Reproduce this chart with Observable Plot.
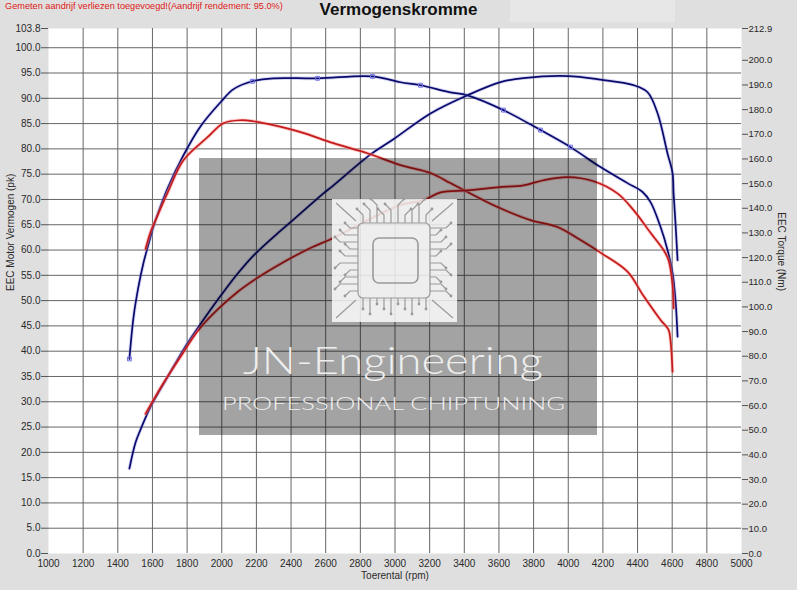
<!DOCTYPE html>
<html>
<head>
<meta charset="utf-8">
<script src="https://cdn.jsdelivr.net/npm/d3@7"></script>
<script src="https://cdn.jsdelivr.net/npm/@observablehq/plot@0.6"></script>
<style>
  html, body { margin: 0; padding: 0; background: #ffffff; }
  #wrap { position: relative; width: 797px; height: 595px; overflow: hidden; background: #ffffff; }
  #bg { position: absolute; left: 0; top: 0; width: 797px; height: 590px; background: #dfdfdf; }
  #lightbox { position: absolute; left: 510px; top: 0; width: 165px; height: 22px; background: #e7e7e7; }
  #chart { position: absolute; left: 0; top: 0; }
  #note { position: absolute; left: 5px; top: 1px; font: 9.2px "Liberation Sans", Arial, sans-serif; color: #e01818; white-space: nowrap; }
  #title { position: absolute; left: 0; width: 797px; top: 0px; text-align: center; font: bold 17px "Liberation Sans", Arial, sans-serif; color: #111; }
  #wm { position: absolute; left: 0; top: 0; pointer-events: none; }
</style>
</head>
<body>
<div id="wrap">
  <div id="bg"></div>
  <div id="lightbox"></div>
  <div id="chart"></div>
  <svg id="wm" width="797" height="595"></svg>
  <div id="note">Gemeten aandrijf verliezen toegevoegd!(Aandrijf rendement: 95.0%)</div>
  <div id="title">Vermogenskromme</div>
</div>
<script>
// ---- data ----
const bluePowerRpm = [1467,1502,1531,1589,1687,1779,1866,1935,2010,2091,2183,2322,2414,2587,2645,2859,2991,3205,3418,3609,3742,3996,4186,4377,4458,4516,4573,4602,4608,4619,4631];
const bluePowerPk  = [16.8,21.9,24.5,29.0,34.9,40.3,44.8,48.2,51.7,55.3,58.9,63.3,66.0,71.2,72.8,78.9,81.9,87.0,90.6,93.2,94.0,94.4,93.7,92.6,91.2,87.0,79.1,75.2,71.2,65.3,58.0];

const blueTorqueRpm = [1467,1491,1519,1548,1571,1600,1618,1687,1779,1877,1993,2068,2177,2299,2553,2870,3032,3147,3320,3418,3626,3840,4013,4186,4342,4429,4475,4533,4573,4602,4619,4631];
const blueTorqueNm  = [78.9,96.0,108.1,117.8,123.9,131.2,135.2,148.0,161.5,173.2,183.0,188.3,191.5,192.7,192.7,193.5,191.1,189.9,187.0,185.8,179.8,171.7,164.8,156.7,150.2,146.6,142.5,132.4,123.1,113.8,102.8,87.9];

const redPowerRpm = [1560,1600,1664,1762,1866,1975,2091,2206,2356,2512,2645,2876,3032,3165,3263,3418,3592,3742,3857,3996,4146,4284,4377,4475,4550,4579,4602,4608];
const redPowerPk  = [27.6,30.0,33.7,38.9,44.2,48.2,51.7,54.5,57.6,60.4,62.4,66.5,68.9,69.9,71.4,71.8,72.4,72.8,73.8,74.4,73.6,71.2,67.9,63.4,60.0,58.0,53.1,48.5];

const redTorqueRpm = [1560,1589,1618,1687,1779,1918,2010,2108,2183,2299,2455,2645,2841,3032,3205,3320,3418,3592,3782,3938,4071,4186,4342,4434,4533,4579,4590,4602];
const redTorqueNm  = [123.5,130.4,135.2,146.2,159.5,168.8,174.5,175.7,175.3,173.7,170.9,166.4,162.3,157.5,154.3,150.2,146.6,140.5,135.2,132.4,127.1,122.0,114.3,104.5,94.7,90.7,86.6,73.7];

const markerRpm = [1467,2177,2553,2870,3147,3626,3840,4013];

const xTicks = [1000,1200,1400,1600,1800,2000,2200,2400,2600,2800,3000,3200,3400,3600,3800,4000,4200,4400,4600,4800,5000];
const leftTicks = [0,5,10,15,20,25,30,35,40,45,50,55,60,65,70,75,80,85,90,95,100,103.8];
const rightTicks = [0,10,20,30,40,50,60,70,80,90,100,110,120,130,140,150,160,170,180,190,200,212.9];
const leftMax = 103.8, rightMax = 212.9;

// ---- build ----
const k = leftMax / rightMax;   // Nm -> left-scale units
const zip = (xs, ys, f = v => v) => xs.map((x, i) => ({rpm: x, v: f(ys[i])}));
const bp = zip(bluePowerRpm, bluePowerPk);
const bt = zip(blueTorqueRpm, blueTorqueNm, v => v * k);
const rp = zip(redPowerRpm, redPowerPk);
const rt = zip(redTorqueRpm, redTorqueNm, v => v * k);
const markers = bt.filter(d => markerRpm.includes(d.rpm));

const BLUE = "#0a0a6c", BLUE_HALO = "#7b7bdc";
const RED = "#c41c1c", RED_HALO = "#ff8a8a";

function curve(data, color, halo, haloOp) {
  return [
    Plot.line(data, {x: "rpm", y: "v", stroke: halo, strokeWidth: 3.6, strokeOpacity: haloOp, curve: "catmull-rom"}),
    Plot.line(data, {x: "rpm", y: "v", stroke: color, strokeWidth: 1.7, curve: "catmull-rom"})
  ];
}

const chart = Plot.plot({
  width: 797,
  height: 590,
  marginLeft: 48,
  marginRight: 56,
  marginTop: 28,
  marginBottom: 37,
  style: {background: "transparent", fontFamily: "'Liberation Sans', Arial, sans-serif", fontSize: "10px", color: "#2a2a2a", overflow: "visible"},
  x: {domain: [1000, 5000]},
  y: {domain: [0, leftMax]},
  marks: [
    Plot.frame({fill: "white", stroke: null}),
    Plot.ruleX(xTicks.filter(t => t > 1000 && t < 5000), {stroke: "#666", strokeWidth: 1}),
    Plot.ruleY(leftTicks.filter(t => t > 0 && t < leftMax), {stroke: "#666", strokeWidth: 1}),
    Plot.axisX({ticks: xTicks, tickSize: 0, tickPadding: 6, tickFormat: d => String(d), label: null}),
    Plot.axisY({anchor: "left", ticks: leftTicks, tickSize: 7, tickPadding: 1, tickFormat: d => d.toFixed(1), label: null, stroke: "#555"}),
    Plot.axisY({anchor: "right", ticks: rightTicks.map(v => v * k), tickSize: 6, tickPadding: 1, fontSize: 9.5, tickFormat: v => (v / k).toFixed(1), label: null, stroke: "#555"}),
    ...curve(bt, BLUE, BLUE_HALO, 0.3),
    ...curve(bp, BLUE, BLUE_HALO, 0.3),
    ...curve(rt, RED, RED_HALO, 0.45),
    ...curve(rp, RED, RED_HALO, 0.45),
    Plot.dot(markers, {x: "rpm", y: "v", symbol: "square", r: 2.2, stroke: "#7070e8", strokeWidth: 1, fill: "none"}),
    Plot.text(["EEC Motor Vermogen (pk)"], {frameAnchor: "left", dx: -38, rotate: -90, fill: "#2a2a2a", fontSize: 10}),
    Plot.text(["EEC Torque (Nm)"], {frameAnchor: "right", dx: 40, rotate: 90, fill: "#2a2a2a", fontSize: 10}),
    Plot.text(["Toerental (rpm)"], {frameAnchor: "bottom", dy: 25, fill: "#2a2a2a", fontSize: 10})
  ]
});
document.getElementById("chart").appendChild(chart);

// ---- watermark overlay (decoration) ----
const wm = d3.select("#wm");
wm.append("rect").attr("x", 199).attr("y", 158).attr("width", 398).attr("height", 277).attr("fill", "#000").attr("fill-opacity", 0.36);
const chip = wm.append("g");
chip.append("rect").attr("x", 332).attr("y", 199).attr("width", 125).attr("height", 123).attr("fill", "#fff").attr("fill-opacity", 0.82);
const tr = chip.append("g").attr("stroke", "#9a9a9a").attr("fill", "none").attr("stroke-width", 1.2);
tr.append("rect").attr("x", 358).attr("y", 223).attr("width", 72).attr("height", 75).attr("rx", 5);
tr.append("rect").attr("x", 373).attr("y", 238).attr("width", 45).attr("height", 45).attr("rx", 6).attr("stroke-width", 1.6);
const dots = chip.append("g").attr("fill", "#9a9a9a");
[363,370,377,384,391,398,405,412,419,426].forEach((x, i) => {
  const len = 8 + (i % 3) * 5;
  tr.append("path").attr("d", `M${x},223 V${223 - len} l${i < 5 ? -6 : 6},-6`);
  dots.append("circle").attr("cx", x + (i < 5 ? -6 : 6)).attr("cy", 223 - len - 6).attr("r", 1.4);
  const len2 = 6 + ((i + 1) % 3) * 5;
  tr.append("path").attr("d", `M${x},298 V${298 + len2}`);
  dots.append("circle").attr("cx", x).attr("cy", 298 + len2).attr("r", 1.4);
});
[228,235,242,249,256,263,270,277,284,291].forEach((y, i) => {
  const len = 8 + (i % 3) * 5;
  tr.append("path").attr("d", `M358,${y} H${358 - len} l-5,${i < 5 ? -5 : 5}`);
  dots.append("circle").attr("cx", 358 - len - 5).attr("cy", y + (i < 5 ? -5 : 5)).attr("r", 1.4);
  const len2 = 6 + ((i + 2) % 3) * 5;
  tr.append("path").attr("d", `M430,${y} H${430 + len2} l5,${i < 5 ? -5 : 5}`);
  dots.append("circle").attr("cx", 430 + len2 + 5).attr("cy", y + (i < 5 ? -5 : 5)).attr("r", 1.4);
});
tr.append("path").attr("d", "M336,203 L356,221 M453,203 L432,221 M336,318 L356,300 M453,318 L432,300");

wm.append("text").attr("x", 243).attr("y", 374).attr("textLength", 300).attr("lengthAdjust", "spacingAndGlyphs")
  .attr("font-family", "Lato, 'Open Sans', sans-serif").attr("font-weight", 300).attr("font-size", 37)
  .attr("fill", "#efefef").text("JN-Engineering");
wm.append("text").attr("x", 222).attr("y", 410).attr("textLength", 343).attr("lengthAdjust", "spacingAndGlyphs")
  .attr("font-family", "Lato, 'Open Sans', sans-serif").attr("font-weight", 300).attr("font-size", 18)
  .attr("fill", "#efefef").text("PROFESSIONAL CHIPTUNING");
</script>
</body>
</html>
